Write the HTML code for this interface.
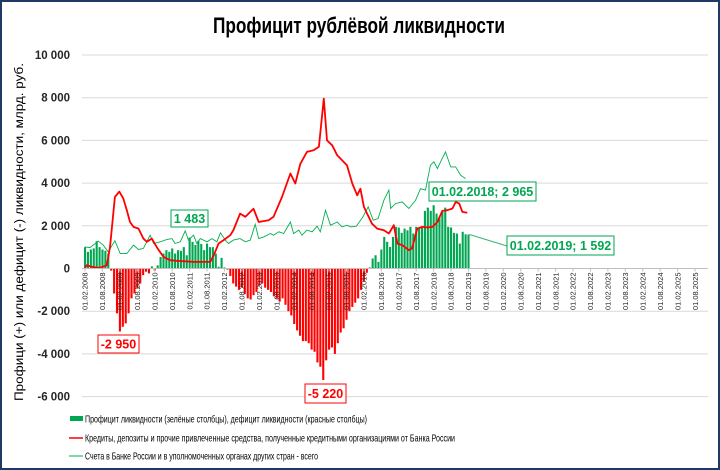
<!DOCTYPE html>
<html><head><meta charset="utf-8"><style>
html,body{margin:0;padding:0;background:#fff}
#wrap{position:relative;width:720px;height:470px;box-sizing:border-box;border:2px solid #1f3864;overflow:hidden}
svg{position:absolute;left:-2px;top:-2px}
text{font-family:"Liberation Sans","DejaVu Sans",sans-serif}
</style></head><body>
<div id="wrap">
<svg id="chart" width="720" height="470">
<text x="359" y="33" text-anchor="middle" font-size="22" font-weight="bold" textLength="292" lengthAdjust="spacingAndGlyphs">Профицит рублёвой ликвидности</text>
<text transform="translate(23,232) rotate(-90)" text-anchor="middle" font-size="11.5" textLength="338" lengthAdjust="spacingAndGlyphs">Профици (+) или дефицит (-) ликвидности, млрд. руб.</text>
<g id="grid"></g><g id="bars"></g><g id="lines"></g><g id="xaxis"></g><g id="ann"></g>
<g>
<rect x="70" y="416" width="13" height="5" fill="#00a650"/>
<text x="85" y="422.5" font-size="10.5" textLength="282" lengthAdjust="spacingAndGlyphs">Профицит ликвидности (зелёные столбцы),  дефицит ликвидности (красные столбцы)</text>
<line x1="69" y1="438" x2="83" y2="438" stroke="#ff0000" stroke-width="1.5"/>
<text x="85" y="441.5" font-size="10.5" textLength="370" lengthAdjust="spacingAndGlyphs">Кредиты, депозиты и прочие привлеченные средства, полученные кредитными организациями от Банка России</text>
<line x1="69" y1="456" x2="83" y2="456" stroke="#00b050" stroke-width="1"/>
<text x="85" y="459.5" font-size="10.5" textLength="233" lengthAdjust="spacingAndGlyphs">Счета  в Банке России и в уполномоченных органах других стран - всего</text>
</g>
</svg></div>
<script>
const yTicks=[10000,8000,6000,4000,2000,0,-2000,-4000,-6000];
const yTickLabels=["10 000","8 000","6 000","4 000","2 000","0","-2 000","-4 000","-6 000"];
const xLabelYears=[2008,2009,2010,2011,2012,2013,2014,2015,2016,2017,2018,2019,2020,2021,2022,2023,2024,2025];
const balance=[1000,780,890,940,1280,1000,890,830,700,
-100,-1170,-2100,-2950,-2730,-2570,-2100,-1400,-1170,-940,-700,-310,-150,-230,100,
-100,150,
540,700,860,780,940,700,860,830,1000,620,1450,1250,1100,1300,1150,860,1170,1000,1000,
700,80,500,50,
-50,-350,-700,-850,-1000,-900,-1200,-1400,-1450,-1250,-1100,-800,-700,-900,-1000,-1100,-1300,-1400,-1550,-1400,-1700,-2000,-2200,-2600,-2900,-3150,-3400,-3400,-3500,-3800,-3900,-4400,-4600,-5220,
-4300,-3800,-3700,-4000,-3500,-3000,-2800,-2400,-2000,-1800,-1600,-1400,-1000,-600,-200,
50,470,620,310,890,1480,1250,1010,1480,1950,1920,1670,1870,1790,1950,1640,1950,1870,1950,2700,2850,2700,2965,2570,2420,2650,2850,1950,1920,1670,1640,1170,1720,1600,1592];
const creditMonths=[0,0.6,2.9,5.2,7.5,8.6,10.3,11.8,13.2,14.4,15.5,16.7,18.4,20.1,21.3,23,24.7,27,29.3,31.6,37.4,43.1,44.3,46,47.7,50,51.1,53.4,55.2,56.9,58,59.8,63.2,64.9,67.8,70.7,72.4,74.1,76.4,78.7,80.5,82.2,83.3,85.1,86.8,88.5,90.2,92,93.7,94.8,96,97.1,98.8,100.6,102.9,104.6,106.3,107.5,109.2,111.5,112.6,114.4,116.1,117.8,119.6,121.3,123,124.7,126.5,127.6,128.8,129.9,131.6];
const creditValues=[30,150,60,30,150,1000,3350,3600,3280,2730,2180,1950,1870,1400,1250,1400,1000,550,390,360,310,310,620,1170,1330,1560,1800,2570,2420,2650,2800,2180,2260,2420,3350,4450,3980,4900,5460,5540,5700,7960,6000,5770,5300,5070,4830,3980,3430,3740,2890,2570,2100,1870,1790,1640,2030,1170,1090,860,940,1870,1950,1920,1950,2180,2700,2730,2810,3120,3040,2650,2610];
const acctMonths=[0,1.7,4.6,6.3,8,10.3,12.1,14.4,16.7,18.4,20.1,22.4,23.6,25.9,28.2,29.9,31,32.8,34.5,35.6,37.4,38.5,39.7,42,43.7,45.4,46.6,48.3,49.4,51.1,53.4,55.2,56.9,58.6,59.8,61.5,63.8,64.9,66.7,68.4,70.7,71.8,73.6,74.7,76.4,78.2,79.9,81,82.8,84.5,86.8,88.5,90.2,91.4,93.4,95.7,97.5,99.2,100.9,102.9,104.6,105.2,106.9,109.2,111.5,113.8,115.5,117.2,118.9,120.1,121.3,122.4,124.1,125.9,127.6,129.3,131];
const acctValues=[1010,980,1280,1090,780,1300,700,700,1090,890,940,1560,1170,1250,1360,1400,1170,1250,1760,1330,1560,1170,1400,1250,1400,1250,1670,1330,1170,1330,1400,1250,1330,2070,1400,1480,1640,1560,1720,1640,2180,1640,1800,1560,1800,1720,1980,1720,2730,2030,2180,1950,2030,1950,1980,2420,2890,2260,2340,3200,3670,2810,3040,3120,2810,3200,3740,3670,4840,5000,4680,5000,5460,4760,4760,4370,4210];

const NS="http://www.w3.org/2000/svg";
const X0=85, MW=2.905, Y0=268.5, PX=21.35/1000, PL=82, PR=708;
const xs=m=>X0+m*MW, ys=v=>Y0-v*PX;
function mk(tag,attrs,parent){const e=document.createElementNS(NS,tag);for(const k in attrs)e.setAttribute(k,attrs[k]);parent.appendChild(e);return e;}
const grid=document.getElementById('grid');
yTicks.forEach((v,i)=>{
  if(v!==0){const l=mk('line',{x1:PL,x2:PR,y1:ys(v),y2:ys(v),stroke:'#d9d9d9','stroke-width':1},grid);
  
  }
  const t=mk('text',{x:70,y:ys(v)+4,'text-anchor':'end','font-size':11.5,'font-weight':'bold',fill:'#262626'},grid);
  t.textContent=yTickLabels[i];
  
  
});
const bars=document.getElementById('bars');
balance.forEach((v,i)=>{
  const y=v>=0?ys(v):Y0, h=Math.abs(v)*PX;
  const r=mk('rect',{x:xs(i)-1,y:y,width:2.1,height:h,fill:v>=0?'#00a650':'#ff0000'},bars);
  
  
});
const lines=document.getElementById('lines');
function path(ms,vs){return ms.map((m,i)=>(i?'L':'M')+xs(m).toFixed(1)+' '+ys(vs[i]).toFixed(1)).join(' ');}
const pa=mk('path',{d:path(acctMonths,acctValues),fill:'none',stroke:'#00b050','stroke-width':0.9},lines);


const pc=mk('path',{d:path(creditMonths,creditValues),fill:'none',stroke:'#ff0000','stroke-width':1.8,'stroke-linejoin':'round'},lines);


const xa=document.getElementById('xaxis');
const ax=mk('line',{x1:PL,x2:PR,y1:Y0,y2:Y0,stroke:'#bfbfbf','stroke-width':1},xa);


xLabelYears.forEach((yr,j)=>{
  ['02','08'].forEach((mo,k)=>{
    const m=j*12+k*6, x=xs(m);
    const tk=mk('line',{x1:x,x2:x,y1:Y0,y2:Y0+3,stroke:'#bfbfbf'},xa);
    
    
    const t=mk('text',{transform:`translate(${x+2.7},${Y0+4}) rotate(-90)`,'text-anchor':'end','font-size':7.5,fill:'#262626'},xa);
    t.textContent='01.'+mo+'.'+yr;
    
    
  });
});
const ann=document.getElementById('ann');
function box(x,y,w,h,txt,col,name){
  const r=mk('rect',{x:x,y:y,width:w,height:h,fill:'#fff',stroke:col,'stroke-width':1},ann);
  
  
  const t=mk('text',{x:x+w/2,y:y+h/2+4.5,'text-anchor':'middle','font-size':12.5,'font-weight':'bold',fill:col},ann);
  t.textContent=txt;
  
  
}
const ll=mk('line',{x1:xs(132)+1,y1:ys(1592),x2:507,y2:246,stroke:'#3cb371','stroke-width':1},ann);


box(171,210,37,17,'1 483','#00a650','label-1483');
box(98,335,41,18,'-2 950','#ff0000','label-min-2009');
box(305,384,41,19,'-5 220','#ff0000','label-min-2015');
box(429,182,107,19,'01.02.2018; 2 965','#00a650','label-2018');
box(507,236,107,19,'01.02.2019; 1 592','#00a650','label-2019');
</script>
</body></html>
